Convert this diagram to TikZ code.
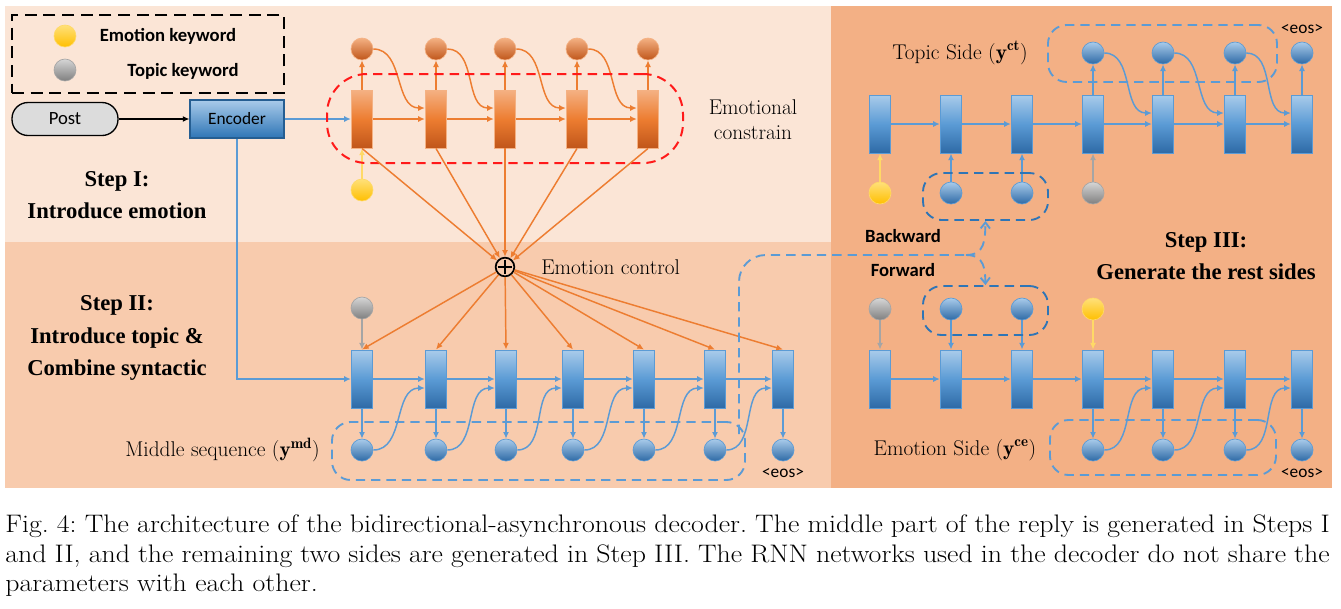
\documentclass[tikz,border=0pt]{standalone}
\usepackage{fontspec}
\newfontfamily\calib{Carlito}
\newfontfamily\tnr{Liberation Serif}
\usetikzlibrary{arrows.meta,calc,fit}
\definecolor{bgA}{HTML}{FBE5D6}
\definecolor{bgB}{HTML}{F8CBAD}
\definecolor{bgC}{HTML}{F3B085}
\definecolor{bluL}{HTML}{5B9BD5}
\definecolor{bluTop}{HTML}{A9CBEA}
\definecolor{bluMid}{HTML}{5B9BD5}
\definecolor{bluBot}{HTML}{2E6AA6}
\definecolor{bluD}{HTML}{2E75B6}
\definecolor{orL}{HTML}{ED7D31}
\definecolor{orTop}{HTML}{F4B183}
\definecolor{orMid}{HTML}{ED7D31}
\definecolor{orBot}{HTML}{C0561A}
\definecolor{yeL}{HTML}{FFD966}
\definecolor{yeTop}{HTML}{FFE07A}
\definecolor{yeBot}{HTML}{FFBF00}
\definecolor{grL}{HTML}{A5A5A5}
\definecolor{grTop}{HTML}{D6D6D6}
\definecolor{grBot}{HTML}{7F7F7F}
\definecolor{postG}{HTML}{DCDCDC}
\definecolor{redD}{HTML}{FF1A1A}
\begin{document}
\begin{tikzpicture}[x=0.75pt,y=-0.75pt,
  brect/.style={draw=bluL, line width=0.7pt, top color=bluTop, bottom color=bluBot, middle color=bluMid, minimum width=16pt, minimum height=43.5pt, inner sep=0pt},
  orect/.style={draw=orTop, line width=0.7pt, top color=orTop, bottom color=orBot, middle color=orMid, minimum width=16pt, minimum height=43.5pt, inner sep=0pt},
  bcirc/.style={circle, draw=bluL, line width=0.5pt, top color=bluTop, bottom color=bluBot, minimum size=16.5pt, inner sep=0pt},
  ocirc/.style={circle, draw=orTop, line width=0.5pt, top color=orTop, bottom color=orBot, minimum size=16.5pt, inner sep=0pt},
  ycirc/.style={circle, draw=yeL, line width=0.5pt, top color=yeTop, bottom color=yeBot, minimum size=16.5pt, inner sep=0pt},
  gcirc/.style={circle, draw=grL, line width=0.5pt, top color=grTop, bottom color=grBot, minimum size=16.5pt, inner sep=0pt},
  arrtip/.style={-{Latex[length=5pt,width=4.5pt]}},
  barr/.style={draw=bluL, line width=1.1pt, arrtip},
  oarr/.style={draw=orL, line width=1.1pt, arrtip},
  yarr/.style={draw=yeL, line width=1.1pt, arrtip},
  garr/.style={draw=grL, line width=1.1pt, arrtip},
  karr/.style={draw=black, line width=1.1pt, arrtip},
  bgrp/.style={draw=bluL, line width=1.4pt, dash pattern=on 7pt off 4.5pt, rounded corners=14pt, inner sep=0pt},
  dgrp/.style={draw=bluD, line width=1.4pt, dash pattern=on 7pt off 4.5pt, rounded corners=14pt, inner sep=0pt},
  rgrp/.style={draw=redD, line width=1.5pt, dash pattern=on 7pt off 4.5pt, rounded corners=30pt, inner sep=0pt},
  bdash/.style={draw=bluL, line width=1.4pt, dash pattern=on 7pt off 4.5pt},
  labtxt/.style={font=\calib\bfseries\fontsize{14}{16}\selectfont, inner sep=0pt},
  eostxt/.style={font=\calib\fontsize{13}{15}\selectfont, inner sep=0pt},
  cmtxt/.style={font=\fontsize{16}{19}\selectfont, inner sep=0pt},
  steptxt/.style={font=\tnr\bfseries\fontsize{17}{24.5}\selectfont, align=center, inner sep=0pt},
  captxt/.style={font=\frenchspacing\fontsize{19}{22}\selectfont, inner sep=0pt}
]
\useasboundingbox (0,0) rectangle (1341,608);
% backgrounds
\fill[bgA] (5,6) rectangle (831,242);
\fill[bgB] (5,242) rectangle (831,488);
\fill[bgC] (831,6) rectangle (1332,488);

% legend
\node[draw=black, line width=1.6pt, dash pattern=on 9pt off 5pt, inner sep=0pt, fit={(12,15)(284,93)}] (legend) {};
\node[ycirc] (lgY) at (65,36) {};
\node[gcirc] (lgG) at (65,70) {};
\node[labtxt] (lgYt) at (168,36) {Emotion keyword};
\node[labtxt] (lgGt) at (183,71) {Topic keyword};

% post and encoder
\node[draw=black, line width=1pt, fill=postG, rounded corners=12pt, minimum width=79.5pt, minimum height=24.75pt, inner sep=0pt, font=\calib\fontsize{14}{16}\selectfont] (post) at (65,119) {Post};
\node[draw=bluD!80!black, line width=0.8pt, top color=bluTop, bottom color=bluD, minimum width=70.5pt, minimum height=28.5pt, inner sep=0pt, font=\calib\fontsize{13}{15}\selectfont] (enc) at (237,119) {Encoder};
\draw[karr] (post) -- (enc);

% Step I: emotional chain
\foreach \i/\x in {1/362,2/436,3/505,4/577,5/648} {
  \node[orect] (oR\i) at (\x,119) {};
  \node[ocirc] (oC\i) at (\x,49) {};
  \draw[oarr] (oR\i) -- (oC\i);
}
\foreach \i/\j in {1/2,2/3,3/4,4/5} {
  \draw[oarr] (oR\i.east) -- (oR\j.west);
  \draw[oarr] (oC\i.east) to[out=0,in=180] ([yshift=8.25pt]oR\j.west);
}
\node[ycirc] (yk1) at (362,190) {};
\draw[yarr] (yk1) -- (oR1);
\draw[barr] (enc.east) -- (oR1.west);
\node[rgrp, fit={(327,74)(683,163)}] (gCons) {};
\node[cmtxt, align=center] (consT) at (753,120) {Emotional\\constrain};

% emotion control
\node[circle, draw=black, line width=1.3pt, minimum size=14pt, inner sep=0pt] (plus) at (505,267) {};
\draw[line width=1.3pt, shorten >=2.2pt, shorten <=2.2pt] (plus.north) -- (plus.south);
\draw[line width=1.3pt, shorten >=2.2pt, shorten <=2.2pt] (plus.west) -- (plus.east);
\node[cmtxt, anchor=west] (ctrlT) at (541,267) {Emotion control};
\foreach \i in {1,...,5} { \draw[oarr] (oR\i.south) -- (plus); }

% Step II: middle sequence
\foreach \i/\x in {1/362,2/436,3/506,4/573,5/644,6/715,7/783} {
  \node[brect] (bR\i) at (\x,379) {};
  \node[bcirc] (bC\i) at (\x,450) {};
  \draw[barr] (bR\i) -- (bC\i);
  \draw[oarr] (plus) -- (bR\i.north);
}
\foreach \i/\j in {1/2,2/3,3/4,4/5,5/6,6/7} {
  \draw[barr] (bR\i.east) -- (bR\j.west);
  \draw[barr] (bC\i.east) to[out=0,in=180] ([yshift=-6.75pt]bR\j.west);
}
\node[gcirc] (tk1) at (362,308) {};
\draw[garr] (tk1) -- (bR1);
\draw[barr] (enc.south) |- (bR1.west);
\node[bgrp, fit={(332,422)(745,480)}] (gMid) {};
\node[eostxt] (eos1) at (783,473) {<eos>};
\node[cmtxt, anchor=east] (midT) at (320,450) {Middle sequence ($\mathbf{y}^{\mathbf{md}}$)};

% Step III: chains
\foreach \i/\x in {1/880,2/951,3/1022,4/1093,5/1163,6/1235,7/1302} {
  \node[brect] (tR\i) at (\x,124) {};
  \node[brect] (eR\i) at (\x,379) {};
}
\foreach \i/\j in {1/2,2/3,3/4,4/5,5/6,6/7} {
  \draw[barr] (tR\i.east) -- (tR\j.west);
  \draw[barr] (eR\i.east) -- (eR\j.west);
}
\foreach \i/\x in {4/1093,5/1163,6/1235,7/1302} {
  \node[bcirc] (tC\i) at (\x,53) {};
  \draw[barr] (tR\i) -- (tC\i);
  \node[bcirc] (eC\i) at (\x,450) {};
  \draw[barr] (eR\i) -- (eC\i);
}
\foreach \i/\j in {4/5,5/6,6/7} {
  \draw[barr] (tC\i.east) to[out=0,in=180] ([yshift=8.25pt]tR\j.west);
  \draw[barr] (eC\i.east) to[out=0,in=180] ([yshift=-6.75pt]eR\j.west);
}
% topic side inputs
\node[ycirc] (tY) at (880,193) {};
\node[bcirc] (tB2) at (951,193) {};
\node[bcirc] (tB3) at (1022,193) {};
\node[gcirc] (tG) at (1093,193) {};
\draw[yarr] (tY) -- (tR1);
\draw[barr] (tB2) -- (tR2);
\draw[barr] (tB3) -- (tR3);
\draw[garr] (tG) -- (tR4);
% emotion side inputs
\node[gcirc] (eG) at (880,309) {};
\node[bcirc] (eB2) at (951,309) {};
\node[bcirc] (eB3) at (1022,309) {};
\node[ycirc] (eY) at (1093,309) {};
\draw[garr] (eG) -- (eR1);
\draw[barr] (eB2) -- (eR2);
\draw[barr] (eB3) -- (eR3);
\draw[yarr] (eY) -- (eR4);

\node[bgrp, fit={(1048,25)(1277,82)}] (gTopic) {};
\node[dgrp, fit={(923,173)(1048,220)}] (gBack) {};
\node[dgrp, fit={(923,286)(1048,335)}] (gFwd) {};
\node[bgrp, fit={(1050,420)(1276,475)}] (gEmoS) {};
\node[eostxt] (eos2) at (1302,29) {<eos>};
\node[eostxt] (eos3) at (1302,473) {<eos>};
\node[cmtxt] (topT) at (960,53) {Topic Side ($\mathbf{y}^{\mathbf{ct}}$)};
\node[cmtxt] (emoT) at (955,450) {Emotion Side ($\mathbf{y}^{\mathbf{ce}}$)};
\node[labtxt] (bwT) at (903,236) {Backward};
\node[labtxt] (fwT) at (903,270) {Forward};

% connector from middle sequence to the sides
\coordinate (cS) at (739,434);
\coordinate (cSplit) at (966,255);
\draw[bdash, rounded corners=20pt] (cS) |- (cSplit);
\draw[bdash, -{Straight Barb[length=4.5pt,width=7pt]}] (cSplit) .. controls (985,255) and (985,240) .. (gBack.south);
\draw[bdash, -{Straight Barb[length=4.5pt,width=7pt]}] (cSplit) .. controls (985,255) and (985,270) .. (gFwd.north);

% step titles
\node[steptxt] (s1) at (117,195) {Step I:\\Introduce emotion};
\node[steptxt] (s2) at (117,338) {Step II:\\Introduce topic \&\\Combine syntactic};
\node[steptxt] (s3) at (1206,256) {Step III:\\Generate the rest sides};

% caption
\node[captxt, anchor=base west] (cap1) at (5,532) {\scalebox{1.1}[1]{\makebox[903pt][s]{Fig. 4: The architecture of the bidirectional-asynchronous decoder. The middle part of the reply is generated in Steps I}}};
\node[captxt, anchor=base west] (cap2) at (5,562) {\scalebox{1.1}[1]{\makebox[903pt][s]{and II, and the remaining two sides are generated in Step III. The RNN networks used in the decoder do not share the}}};
\node[captxt, anchor=base west] (cap3) at (5,591) {\scalebox{1.1}[1]{parameters with each other.}};
\end{tikzpicture}
\end{document}
